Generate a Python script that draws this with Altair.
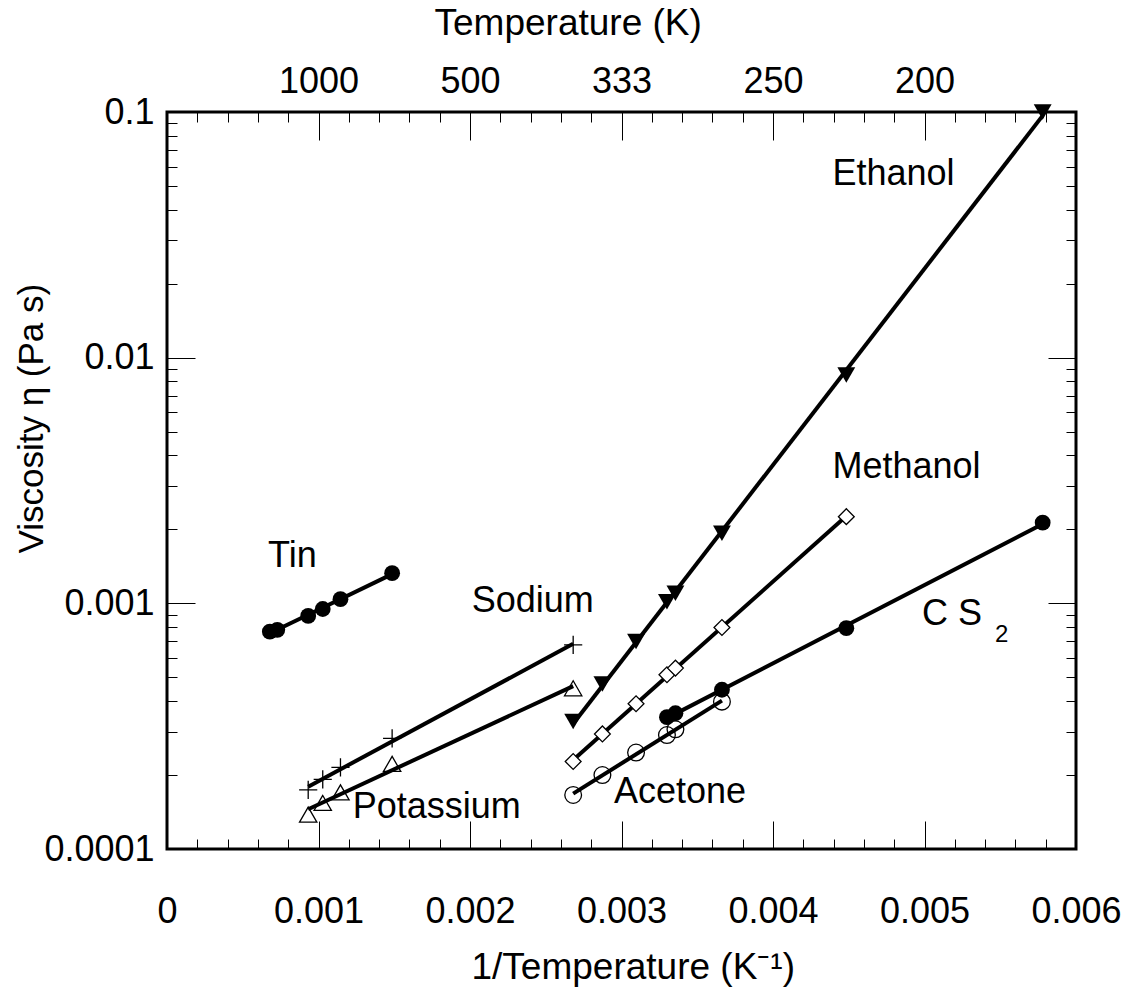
import altair as alt
import pandas as pd

# ---- data (x = 1/T in 1/K, y = viscosity in Pa s) ----
tin_x = [0.000679, 0.000728, 0.000932, 0.001028, 0.001145, 0.001486]
tin_y = [0.000767, 0.000780, 0.000889, 0.000948, 0.001040, 0.001327]

sodium_x = [0.000932, 0.001028, 0.001145, 0.001486, 0.002681]
sodium_y = [0.000174, 0.000192, 0.000215, 0.000282, 0.000677]

potassium_x = [0.000932, 0.001028, 0.001145, 0.001486, 0.002681]
potassium_y = [0.000138, 0.000154, 0.000170, 0.000222, 0.000451]

ethanol_x = [0.002681, 0.002874, 0.003096, 0.003300, 0.003356, 0.003663, 0.004484, 0.005780]
ethanol_y = [0.000330, 0.000470, 0.000699, 0.001016, 0.001100, 0.001928, 0.008510, 0.1000]

methanol_x = [0.002681, 0.002874, 0.003096, 0.003300, 0.003356, 0.003663, 0.004484]
methanol_y = [0.000227, 0.000294, 0.000390, 0.000512, 0.000545, 0.000797, 0.002253]

cs2_x = [0.003300, 0.003356, 0.003663, 0.004484, 0.005780]
cs2_y = [0.000344, 0.000357, 0.000445, 0.000792, 0.002130]

acetone_x = [0.002681, 0.002874, 0.003096, 0.003300, 0.003356, 0.003663]
acetone_y = [0.000166, 0.000200, 0.000247, 0.000291, 0.000307, 0.000398]

label_text = ["Tin", "Sodium", "Potassium", "Acetone", "Methanol", "Ethanol", "C S"]
label_x = [0.000667, 0.002011, 0.001226, 0.002950, 0.004392, 0.004392, 0.004983]
label_y = [0.001406, 0.000925, 0.0001334, 0.0001545, 0.003228, 0.0505, 0.000816]
sub_text = ["2"]
sub_x = [0.005465]
sub_y = [0.000697]

x_major = [0, 0.001, 0.002, 0.003, 0.004, 0.005, 0.006]
x_minor = [round(i * 0.0002, 4) for i in range(31) if i % 5 != 0]
top_label_values = [0.001, 0.002, 0.003, 0.004, 0.005]
y_major = [0.0001, 0.001, 0.01, 0.1]
y_minor = [m * d for d in (0.0001, 0.001, 0.01) for m in range(2, 10)]

series = {
    "Tin": (tin_x, tin_y),
    "Sodium": (sodium_x, sodium_y),
    "Potassium": (potassium_x, potassium_y),
    "Ethanol": (ethanol_x, ethanol_y),
    "Methanol": (methanol_x, methanol_y),
    "CS2": (cs2_x, cs2_y),
    "Acetone": (acetone_x, acetone_y),
}
rows = []
for name, (xs, ys) in series.items():
    for xv, yv in zip(xs, ys):
        rows.append({"series": name, "x": xv, "y": yv})
df = pd.DataFrame(rows)
labels_df = pd.DataFrame({"text": label_text, "x": label_x, "y": label_y})
sub_df = pd.DataFrame({"text": sub_text, "x": sub_x, "y": sub_y})

FONT = "Liberation Sans"
FS = 36
W, H = 909, 737

xscale = alt.Scale(domain=[0, 0.006], nice=False, zero=False)
yscale = alt.Scale(type="log", domain=[0.0001, 0.1], nice=False)


def X(axis=None):
    return alt.X("x:Q", scale=xscale, axis=axis)


def Y(axis=None):
    return alt.Y("y:Q", scale=yscale, axis=axis)


def tick_axis(orient, values, size):
    return alt.Axis(orient=orient, values=values, tickSize=size, offset=-size,
                    labels=False, domain=False, grid=False, ticks=True, title=None,
                    tickColor="black", tickWidth=1)


# regression lines (straight lines in log space)
lines = alt.Chart(df).transform_calculate(
    ly="log(datum.y) / LN10"
).transform_regression(
    "x", "ly", groupby=["series"]
).transform_calculate(
    y="pow(10, datum.ly)"
).mark_line(color="black", strokeWidth=4).encode(
    x=X(alt.Axis(orient="bottom", values=x_major, format="~g", labelFont=FONT,
                 labelFontSize=FS, labelColor="black", labelPadding=73,
                 labelBaseline="alphabetic", labelFlush=False, labelOverlap=False,
                 ticks=False, domain=False, grid=False,
                 title="1/Temperature (K⁻¹)", titleFont=FONT, titleFontSize=37,
                 titleFontWeight="normal", titleColor="black",
                 titleBaseline="alphabetic", titleAlign="left",
                 titleY=129, titleX=304)),
    y=Y(alt.Axis(orient="left", values=y_major, format="~g", labelFont=FONT,
                 labelFontSize=FS, labelColor="black", labelPadding=13,
                 labelBaseline="middle", labelFlush=False, labelOverlap=False,
                 ticks=False, domain=False, grid=False,
                 title="Viscosity η (Pa s)", titleFont=FONT, titleFontSize=35,
                 titleFontWeight="normal", titleColor="black",
                 titleBaseline="alphabetic", titleAlign="left",
                 titleX=-125, titleY=441, titleAngle=270)),
    detail="series:N",
)

top_labels = alt.Chart(df).mark_point(opacity=0).encode(
    x=X(alt.Axis(orient="top", values=top_label_values,
                 labelExpr="format(1 / datum.value, 'd')",
                 labelFont=FONT, labelFontSize=FS, labelColor="black",
                 labelPadding=20, labelBaseline="alphabetic", labelFlush=False,
                 labelOverlap=False, ticks=False, domain=False, grid=False,
                 title="Temperature (K)", titleFont=FONT, titleFontSize=37,
                 titleFontWeight="normal", titleColor="black",
                 titleBaseline="alphabetic", titleAlign="left",
                 titleY=-78, titleX=267)),
    y=Y(tick_axis("left", y_major, 28)),
)

ticks1 = alt.Chart(df).mark_point(opacity=0).encode(
    x=X(tick_axis("bottom", x_major, 28)), y=Y(tick_axis("left", y_minor, 10)))
ticks2 = alt.Chart(df).mark_point(opacity=0).encode(
    x=X(tick_axis("bottom", x_minor, 10)), y=Y(tick_axis("right", y_major, 28)))
ticks3 = alt.Chart(df).mark_point(opacity=0).encode(
    x=X(tick_axis("top", x_major, 28)), y=Y(tick_axis("right", y_minor, 10)))
ticks4 = alt.Chart(df).mark_point(opacity=0).encode(
    x=X(tick_axis("top", x_minor, 10)), y=Y())


def pts(name, **kw):
    return alt.Chart(df).transform_filter(
        alt.datum.series == name
    ).mark_point(**kw).encode(x=X(), y=Y())


p_tin = pts("Tin", shape="circle", filled=True, color="black", size=250, opacity=1)
p_cs2 = pts("CS2", shape="circle", filled=True, color="black", size=250, opacity=1)
p_ace = pts("Acetone", shape="circle", filled=False, color="black", size=280,
            strokeWidth=1.3, opacity=1)
p_na = pts("Sodium", shape="M-1,0H1M0,-1V1", filled=False, color="black", size=330,
           strokeWidth=1.3, opacity=1)
p_k = pts("Potassium", shape="triangle-up", filled=False, color="black", size=300,
          strokeWidth=1.3, opacity=1)
p_eth = pts("Ethanol", shape="triangle-down", filled=True, color="black", size=320,
            opacity=1)
p_me = pts("Methanol", shape="diamond", filled=True, fill="white", stroke="black",
           size=250, strokeWidth=1.3, opacity=1)

texts = alt.Chart(labels_df).mark_text(
    font=FONT, fontSize=FS, align="left", baseline="alphabetic", color="black"
).encode(x=X(), y=Y(), text="text:N")
subs = alt.Chart(sub_df).mark_text(
    font=FONT, fontSize=24, align="left", baseline="alphabetic", color="black"
).encode(x=X(), y=Y(), text="text:N")

chart = alt.layer(
    lines, top_labels, ticks1, ticks2, ticks3, ticks4,
    p_tin, p_cs2, p_ace, p_na, p_k, p_eth, p_me, texts, subs
).resolve_axis(x="independent", y="independent").properties(
    width=W, height=H,
    autosize=alt.AutoSizeParams(type="none"),
    padding={"left": 167, "top": 112, "right": 55, "bottom": 140},
    background="white",
).configure_view(stroke="black", strokeWidth=3)

chart.save("out.html", embed_options={"renderer": "svg", "actions": False})
